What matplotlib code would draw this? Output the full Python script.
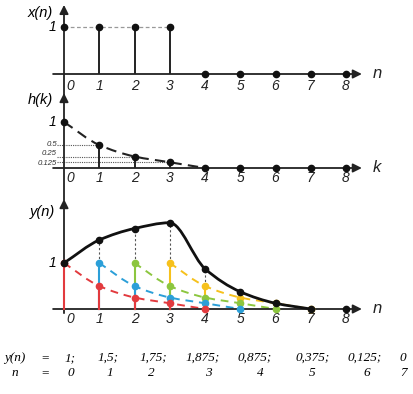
import numpy as np
import matplotlib
matplotlib.use('Agg')
from matplotlib import pyplot as plt
from matplotlib.path import Path
from matplotlib.patches import PathPatch

# data
n = [0, 1, 2, 3, 4, 5, 6, 7, 8]
x_n = [1, 1, 1, 1, 0, 0, 0, 0, 0]
h_k = [1, 0.5, 0.25, 0.125, 0, 0, 0, 0, 0]
y_n = [1, 1.5, 1.75, 1.875, 0.875, 0.375, 0.125, 0, 0]
h_labels = ['0.5', '0.25', '0.125']
y_text = ['1;', '1,5;', '1,75;', '1,875;', '0,875;', '0,375;', '0,125;', '0']
n_text = ['0', '1', '2', '3', '4', '5', '6', '7']
colors = ['#e23a3e', '#2b9fd8', '#8cc63f', '#f6c11c']

W, H = 413, 394
fig = plt.figure(figsize=(W / 100, H / 100), dpi=100)
sans = 'Liberation Sans'
serif = 'Liberation Serif'
xlim = (-64 / 35.25, (W - 64) / 35.25)


def smooth_path(xs, ys):
    # monotone cubic (Fritsch-Carlson) drawn as bezier segments
    xs = np.asarray(xs, float)
    ys = np.asarray(ys, float)
    h = np.diff(xs)
    d = np.diff(ys) / h
    m = np.zeros_like(ys)
    for i in range(1, len(xs) - 1):
        if d[i - 1] * d[i] > 0:
            w1 = 2 * h[i] + h[i - 1]
            w2 = h[i] + 2 * h[i - 1]
            m[i] = (w1 + w2) / (w1 / d[i - 1] + w2 / d[i])
    m[0] = d[0]
    m[-1] = d[-1] if abs(d[-1]) < 0.2 else 0
    verts = [(xs[0], ys[0])]
    codes = [Path.MOVETO]
    for i in range(len(h)):
        verts += [(xs[i] + h[i] / 3, ys[i] + m[i] * h[i] / 3),
                  (xs[i + 1] - h[i] / 3, ys[i + 1] - m[i + 1] * h[i] / 3),
                  (xs[i + 1], ys[i + 1])]
        codes += [Path.CURVE4] * 3
    return Path(verts, codes)


def axes_arrows(ax, ybot, ytop, xname):
    ax.annotate('', xy=(8.45, 0), xytext=(-0.31, 0),
                arrowprops=dict(arrowstyle='-|>', color='#222222', lw=1.3,
                                mutation_scale=13, shrinkA=0, shrinkB=0))
    ax.annotate('', xy=(0, ytop), xytext=(0, ybot),
                arrowprops=dict(arrowstyle='-|>', color='#222222', lw=1.3,
                                mutation_scale=13, shrinkA=0, shrinkB=0))
    ax.text(8.88, 0.02, xname, fontsize=12, style='italic', family=sans,
            ha='center', va='center', color='#222222')


def tick_labels(ax, ypos):
    for v in n:
        off = 0.17 if v == 0 else 0.0
        ax.text(v + off, ypos, str(v), fontsize=10, style='italic', family=sans,
                ha='center', va='center', color='#222222')


# ---- x(n)
ax1 = fig.add_axes([0, 1 - 100 / H, 1, 100 / H])
ax1.set_xlim(*xlim)
ax1.set_ylim(-26 / 47, 74 / 47)
ax1.axis('off')
axes_arrows(ax1, -26 / 47, 1.47, 'n')
tick_labels(ax1, -0.255)
ax1.plot([0, 3], [1, 1], color='#999999', lw=0.9, ls=(0, (3, 2)))
ax1.vlines(n[1:4], 0, x_n[1:4], color='#222222', lw=1.4)
ax1.plot(n, x_n, 'o', color='#111111', ms=4.5, zorder=5, clip_on=False)
ax1.text(-0.68, 1.30, 'x(n)', fontsize=10.5, style='italic', family=sans,
         ha='center', va='center')
ax1.text(-0.22, 1, '1', fontsize=10, style='italic', family=sans,
         ha='right', va='center')

# ---- h(k)
ax2 = fig.add_axes([0, 1 - 200 / H, 1, 112 / H])
ax2.set_xlim(*xlim)
ax2.set_ylim(-32 / 46, 80 / 46)
ax2.axis('off')
axes_arrows(ax2, -32 / 46, 1.63, 'k')
tick_labels(ax2, -0.22)
lab_shift = [0.02, 0.06, -0.03]
for i in range(1, 4):
    ax2.plot([-0.2, n[i]], [h_k[i], h_k[i]], color='#555555', lw=0.8, ls=(0, (1, 1)))
    ax2.text(-0.2, h_k[i] + lab_shift[i - 1], h_labels[i - 1], fontsize=5.6,
             style='italic', family=sans, ha='right', va='center', color='#333333')
ax2.vlines(n[1:4], 0, h_k[1:4], color='#222222', lw=1.4)
ax2.add_patch(PathPatch(smooth_path(n[:5], h_k[:5]), fill=False, color='#222222',
                        lw=1.5, ls=(0, (5, 3))))
ax2.plot(n, h_k, 'o', color='#111111', ms=4.5, zorder=5, clip_on=False)
ax2.text(-0.68, 1.48, 'h(k)', fontsize=10.5, style='italic', family=sans,
         ha='center', va='center')
ax2.text(-0.22, 1, '1', fontsize=10, style='italic', family=sans,
         ha='right', va='center')

# ---- y(n)
ax3 = fig.add_axes([0, 1 - 335 / H, 1, 140 / H])
ax3.set_xlim(*xlim)
ax3.set_ylim(-26 / 46, 114 / 46)
ax3.axis('off')
axes_arrows(ax3, -0.09, 2.39, 'n')
tick_labels(ax3, -0.22)

for k in range(4):
    ax3.add_patch(PathPatch(smooth_path(n[k:k + 5], h_k[:5]), fill=False,
                            color=colors[k], lw=1.4, ls=(0, (4, 3)), zorder=2))

for i in n:
    tops = [h_k[i - k] for k in range(4) if 0 <= i - k <= 4]
    top = max(tops) if tops else 0
    if y_n[i] > top:
        ax3.plot([i, i], [top, y_n[i]], color='#555555', lw=0.8,
                 ls=(0, (2, 2)), zorder=2)
    for k in [3, 2, 1, 0]:
        j = i - k
        if 0 <= j <= 4:
            if h_k[j] > 0:
                ax3.plot([i, i], [0, h_k[j]], color=colors[k], lw=1.5, zorder=3)
            ax3.plot(i, h_k[j], 'o', color=colors[k], ms=4.5, zorder=4)

ax3.add_patch(PathPatch(smooth_path(n[:8], y_n[:8]), fill=False, color='#111111',
                        lw=2.0, zorder=5))
ax3.plot(n, y_n, 'o', color='#111111', ms=4.5, zorder=6, clip_on=False)
ax3.text(-0.6, 2.11, 'y(n)', fontsize=10.5, style='italic', family=sans,
         ha='center', va='center')
ax3.text(-0.22, 1, '1', fontsize=10, style='italic', family=sans,
         ha='right', va='center')

# ---- values as text
y_pos = [70, 108, 153, 203, 255, 313, 365, 403]
n_pos = [71, 110, 151, 208, 260, 312, 367, 404]
fig.text(15 / W, 1 - 358 / H, 'y(n)', fontsize=9.5, style='italic', family=serif,
         ha='center', va='center')
fig.text(45 / W, 1 - 358 / H, '=', fontsize=9.5, family=serif, ha='center', va='center')
fig.text(15 / W, 1 - 373 / H, 'n', fontsize=9.5, style='italic', family=serif,
         ha='center', va='center')
fig.text(45 / W, 1 - 373 / H, '=', fontsize=9.5, family=serif, ha='center', va='center')
for s, p in zip(y_text, y_pos):
    fig.text(p / W, 1 - 358 / H, s, fontsize=9.5, style='italic', family=serif,
             ha='center', va='center')
for s, p in zip(n_text, n_pos):
    fig.text(p / W, 1 - 373 / H, s, fontsize=9.5, style='italic', family=serif,
             ha='center', va='center')

fig.savefig('out.png', dpi=100)
